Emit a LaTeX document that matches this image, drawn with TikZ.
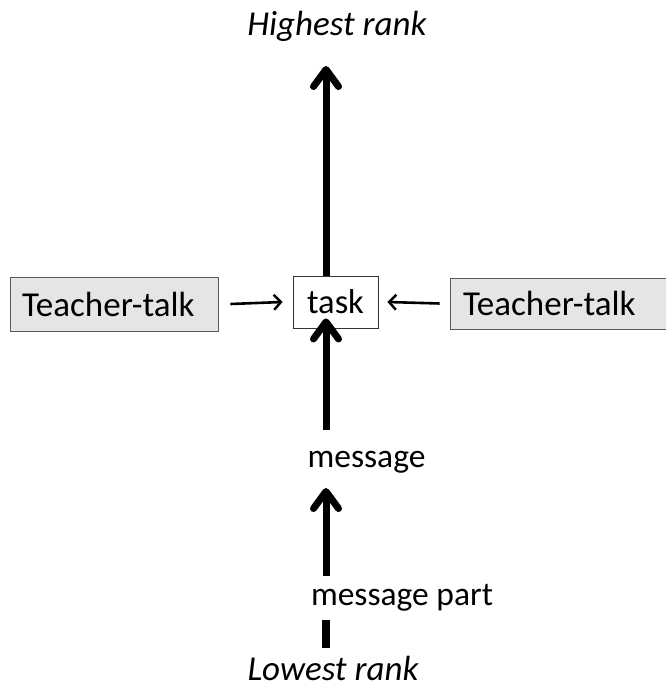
\documentclass[tikz,border=0pt]{standalone}
\usepackage{fontspec}
\setmainfont{Carlito}
\usetikzlibrary{arrows.meta}
\begin{document}
\begin{tikzpicture}[x=1pt,y=-1pt,
  lbl/.style={inner sep=0pt, anchor=base, font=\fontsize{33.5}{36}\selectfont},
  rank/.style={inner sep=0pt, anchor=base, font=\fontsize{35}{38}\selectfont\itshape},
  greybox/.style={draw=black!65, line width=0.9pt, fill=black!10, inner ysep=0pt,
    align=left, font=\fontsize{35}{37}\selectfont},
  whitebox/.style={draw=black!80, line width=0.9pt, fill=white, minimum height=52pt,
    minimum width=85pt, inner sep=0pt, font=\fontsize{34.5}{36}\selectfont},
  bigarrow/.style={line width=7pt, -{Straight Barb[length=17pt, width=25pt, line width=7pt, round]}},
  smallarrow/.style={line width=2.6pt, -{Straight Barb[length=7pt, width=15pt, line width=2.4pt]}}]
\useasboundingbox (0,0) rectangle (665,692);
% rank labels and levels
\node[rank] (high) at (337,36) {Highest rank};
\node[whitebox] (task) at (335.5,302) {task};
\node[greybox, minimum height=54pt, inner xsep=12pt, text width=184pt] (tl) at (114,304) {Teacher-talk};
\node[greybox, minimum height=51pt, inner xsep=13pt, text width=204pt] (tr) at (565,303.5) {Teacher-talk};
\node[lbl] (msg) at (366.5,467) {message};
\node[lbl] (part) at (402,605) {message part};
\node[rank] (low) at (333,680) {Lowest rank};
\coordinate (barTop) at (326,620);
\coordinate (barBot) at (326,648);
\coordinate (topTip) at (326,66);
\coordinate (msgFoot) at (326,430);
\coordinate (partFoot) at (326,576);
% connectors
\draw[bigarrow] (task.north -| topTip) -- (topTip);
\draw[bigarrow] (msgFoot) -- ([yshift=10pt]task.south -| msgFoot);
\draw[bigarrow] (partFoot) -- (326,488);
\draw[line width=7.5pt] (barTop) -- (barBot);
\draw[smallarrow] ([xshift=12pt]tl.east) -- ([xshift=-10pt]task.west);
\draw[smallarrow] ([xshift=-10pt]tr.west) -- ([xshift=9pt]task.east);
\end{tikzpicture}
\end{document}
